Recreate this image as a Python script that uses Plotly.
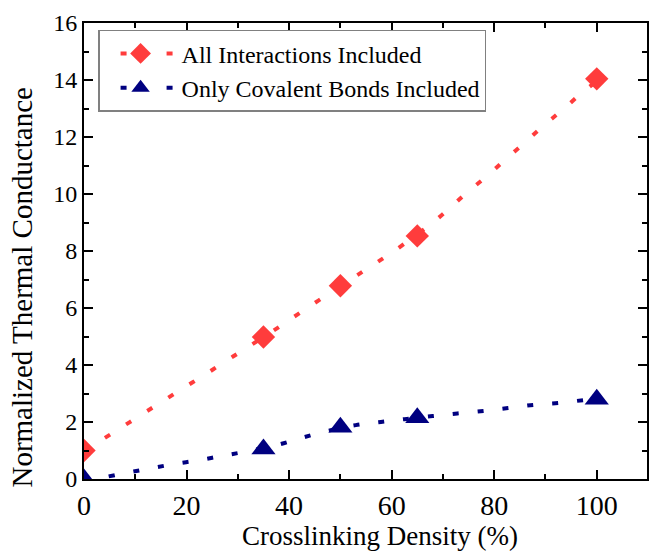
import plotly.graph_objects as go

# Data points
x_pts = [0, 35, 50, 65, 100]
all_vals = [1.0, 4.98, 6.78, 8.53, 14.04]
cov_vals = [0.0, 1.05, 1.82, 2.15, 2.80]

# Dotted fit curves
all_fit_x = [0, 2.4, 6.5, 10.8, 15, 19.2, 23.4, 27.6, 31.7, 37.4, 41.6, 45.7, 52.5, 56.6, 60.8,
             67.2, 71.0, 74.8, 78.6, 82.3, 86.0, 89.7, 93.5, 97.3, 100]
all_fit_y = [0.97, 1.25, 1.72, 2.21, 2.69, 3.17, 3.64, 4.13, 4.60, 5.26, 5.77, 6.26, 7.06, 7.54, 8.04,
             8.88, 9.45, 10.07, 10.63, 11.23, 11.81, 12.41, 12.98, 13.58, 13.95]
cov_fit_x = [0, 2.8, 7.8, 12.6, 17.4, 22.4, 27.2, 32.1, 37.8, 42.6, 47.3, 53, 57.9, 62.5, 68,
             72.8, 77.9, 82.7, 87.6, 92.6, 97.5, 100]
cov_fit_y = [0.0, 0.03, 0.20, 0.36, 0.52, 0.66, 0.82, 0.98, 1.20, 1.45, 1.68, 1.89, 2.00, 2.10, 2.21,
             2.30, 2.39, 2.49, 2.60, 2.67, 2.77, 2.82]

names = ["All Interactions Included", "Only Covalent Bonds Included"]
x_title = "Crosslinking Density (%)"
y_title = "Normalized Thermal Conductance"
red = "#FF3C3C"
navy = "#000080"
FONT = "Liberation Serif, Times New Roman, serif"
DASH = "6px,19px"
LEG_DASH = "0px,16px,6px,40px,6px,300px"

fig = go.Figure()
# fit lines
fig.add_trace(go.Scatter(x=all_fit_x, y=all_fit_y, mode="lines", showlegend=False,
                         line=dict(color=red, width=4, dash=DASH, shape="spline")))
fig.add_trace(go.Scatter(x=cov_fit_x, y=cov_fit_y, mode="lines", showlegend=False,
                         line=dict(color=navy, width=4, dash=DASH, shape="spline")))
# data markers
fig.add_trace(go.Scatter(x=x_pts, y=all_vals, mode="markers", showlegend=False,
                         marker=dict(symbol="diamond", size=18, color=red)))
fig.add_trace(go.Scatter(x=x_pts, y=cov_vals, mode="markers", showlegend=False,
                         marker=dict(symbol="triangle-up", size=21, color=navy)))
# legend entries (line + symbol)
fig.add_trace(go.Scatter(x=[None], y=[None], mode="lines+markers", name=names[0],
                         line=dict(color=red, width=4, dash=LEG_DASH),
                         marker=dict(symbol="diamond", size=18, color=red)))
fig.add_trace(go.Scatter(x=[None], y=[None], mode="lines+markers", name=names[1],
                         line=dict(color=navy, width=4, dash=LEG_DASH),
                         marker=dict(symbol="triangle-up", size=21, color=navy)))

axis_common = dict(
    showline=True, linecolor="black", linewidth=2, mirror="allticks",
    ticks="inside", ticklen=9, tickwidth=2, tickcolor="black",
    showgrid=False, zeroline=False,
)

fig.update_xaxes(range=[0, 109.8], tick0=0, dtick=20,
                 tickfont=dict(family=FONT, size=28, color="black"),
                 minor=dict(ticks="inside", ticklen=5, tickwidth=2, tickcolor="black", dtick=10),
                 **axis_common)
fig.update_yaxes(range=[0, 16], tick0=0, dtick=2,
                 tickfont=dict(family=FONT, size=24, color="black"),
                 minor=dict(ticks="inside", ticklen=5, tickwidth=2, tickcolor="black", dtick=1),
                 **axis_common)

fig.add_annotation(text=x_title, xref="paper", yref="paper", x=0.525, y=-0.125,
                   xanchor="center", yanchor="middle", showarrow=False,
                   font=dict(family=FONT, size=27, color="black"))
fig.add_annotation(text=y_title, xref="paper", yref="paper", x=-0.11, y=0.42,
                   xanchor="center", yanchor="middle", showarrow=False, textangle=-90,
                   font=dict(family=FONT, size=29, color="black"))

fig.update_layout(
    width=649, height=552,
    margin=dict(l=84, r=0, t=23, b=73),
    paper_bgcolor="white", plot_bgcolor="white",
    legend=dict(x=0.025, y=0.985, xanchor="left", yanchor="top",
                bgcolor="white", bordercolor="#808080", borderwidth=1.5,
                font=dict(family=FONT, size=24, color="black"),
                tracegroupgap=0, itemsizing="trace", itemwidth=72),
)

fig.write_html("out.html")
